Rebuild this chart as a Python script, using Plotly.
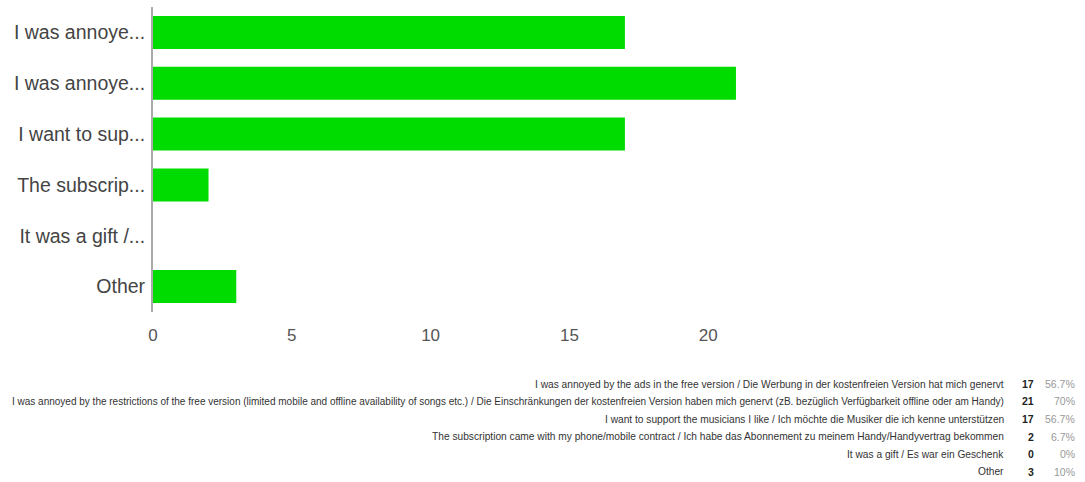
import plotly.graph_objects as go

categories = [
    "I was annoyed by the ads in the free version / Die Werbung in der kostenfreien Version hat mich genervt",
    "I was annoyed by the restrictions of the free version (limited mobile and offline availability of songs etc.) / Die Einschränkungen der kostenfreien Version haben mich genervt (zB. bezüglich Verfügbarkeit offline oder am Handy)",
    "I want to support the musicians I like / Ich möchte die Musiker die ich kenne unterstützen",
    "The subscription came with my phone/mobile contract / Ich habe das Abonnement zu meinem Handy/Handyvertrag bekommen",
    "It was a gift / Es war ein Geschenk",
    "Other",
]
tick_labels = [
    "I was annoye...",
    "I was annoye...",
    "I want to sup...",
    "The subscrip...",
    "It was a gift /...",
    "Other",
]
counts = [17, 21, 17, 2, 0, 3]
percents = ["56.7%", "70%", "56.7%", "6.7%", "0%", "10%"]

W, H = 1085, 482
L, T, R, B = 153, 7, 238, 170
pw = W - L - R
ph = H - T - B

fig = go.Figure()
fig.add_trace(go.Bar(
    y=list(range(len(categories))),
    x=counts,
    orientation="h",
    marker=dict(color="#00dc00", line=dict(width=0)),
    width=0.65,
    hoverinfo="skip",
))

fig.update_layout(
    width=W, height=H,
    margin=dict(l=L, r=R, t=T, b=B, autoexpand=False),
    paper_bgcolor="white", plot_bgcolor="white",
    showlegend=False,
    font=dict(family="Liberation Sans, Arial, sans-serif"),
    xaxis=dict(range=[0, 25], tickvals=[0, 5, 10, 15, 20], showgrid=False,
               zeroline=False, showline=False, ticks="outside", ticklen=8,
               tickcolor="rgba(0,0,0,0)", automargin=False,
               tickfont=dict(size=17, color="#555")),
    yaxis=dict(range=[len(categories) - 0.5, -0.5],
               tickvals=list(range(len(categories))), ticktext=tick_labels,
               showgrid=False, zeroline=False, showline=True, linecolor="#aaa",
               linewidth=2, ticks="", ticklabelstandoff=2, automargin=False,
               tickfont=dict(size=19.5, color="#444")),
)

row_y = [384, 401.5, 419, 436.5, 454, 471.5]
def px(x):
    return (x - L) / pw
def py(y):
    return (H - B - y) / ph

for i, cat in enumerate(categories):
    y = py(row_y[i])
    fs = 10.0 if len(cat) > 150 else 10.2
    fig.add_annotation(x=px(1006), y=y, xref="paper", yref="paper", text=cat,
                       showarrow=False, xanchor="right", yanchor="middle",
                       font=dict(size=fs, color="#333"))
    fig.add_annotation(x=px(1036), y=y, xref="paper", yref="paper", text="<b>%d</b>" % counts[i],
                       showarrow=False, xanchor="right", yanchor="middle",
                       font=dict(size=10.5, color="#222"))
    fig.add_annotation(x=px(1077), y=y, xref="paper", yref="paper", text=percents[i],
                       showarrow=False, xanchor="right", yanchor="middle",
                       font=dict(size=10.5, color="#999"))

fig.write_html("out.html", config={"displayModeBar": False},
               post_script="document.body.style.margin='0';document.body.style.overflow='hidden';")
